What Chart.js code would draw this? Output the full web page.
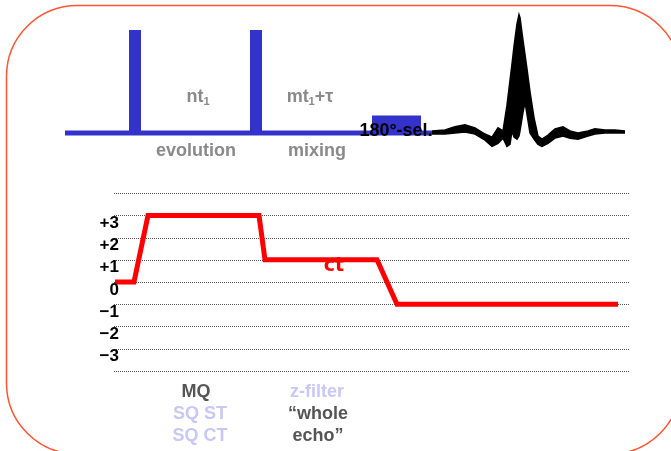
<!DOCTYPE html>
<html>
<head>
<meta charset="utf-8">
<script src="https://cdn.jsdelivr.net/npm/chart.js@4.4.0/dist/chart.umd.min.js"></script>
<style>
  html, body { margin: 0; padding: 0; background: #fff; }
  #wrap { position: relative; width: 671px; height: 451px; }
</style>
</head>
<body>
<div id="wrap"><canvas id="myChart"></canvas></div>
<script>
// pulse sequence: time in arbitrary units, amplitude in % of a hard pulse
const baseline = [65, 432]
const hardPulses = [[129, 141], [250, 262]]
const pulseAmp = 100
const selPulse = [372, 421]
const selAmp = [2, 17]

const echoTime = [432, 445, 455, 465, 475, 485, 492, 498, 503, 507, 510, 512, 514, 517, 519, 520, 523, 525, 527, 530, 534, 538, 542, 548, 555, 563, 570, 578, 588, 595, 605, 615, 625]
const echoTop = [2, 3, 6, 8, 5, -1, -4, 5, 2, 27, 51, 67, 84, 106, 115, 112, 90, 76, 62, 40, 15, -3, -6, -2, 4, 6, 2, 0, 2, 4, 3, 3, 2]
const echoBottom = [-1, -1, 0, 1, -1, -7, -13, -10, -5, -13, -11, 2, -4, -6, -3, 2, 20, 30, 18, 0, -6, -11, -13, -10, -5, -3, -5, -6, -3, -1, 0, 0, 0]

// coherence transfer pathway
const pathTime = [115, 134, 148, 259, 265, 377, 397, 618]
const pathOrder = [0, 0, 3, 3, 1, 1, -1, -1]
const orderLevels = [4, 3, 2, 1, 0, -1, -2, -3, -4]
const tickValues = [3, 2, 1, 0, -1, -2, -3]
const tickLabels = ['+3', '+2', '+1', '0', '\u22121', '\u22122', '\u22123']
const gridSpan = [114, 629]

const FONT = '"Liberation Sans", Arial, sans-serif'
const BLUE = '#3333cc'

function pts (xs, ys) {
  return xs.map((x, i) => ({ x: x, y: ys[i] }))
}

const datasets = []
// baseline
datasets.push({
  data: pts(baseline, [0, 0]),
  yAxisID: 'yp', borderColor: BLUE, borderWidth: 5, fill: false
})
// hard pulses
hardPulses.forEach(p => {
  datasets.push({
    data: pts(p, [pulseAmp, pulseAmp]),
    yAxisID: 'yp', borderWidth: 0, backgroundColor: BLUE, fill: { value: 0 }
  })
})
// selective 180 pulse
datasets.push({
  data: pts(selPulse, [selAmp[1], selAmp[1]]),
  yAxisID: 'yp', borderWidth: 0, backgroundColor: BLUE, fill: { value: selAmp[0] }
})
// echo (filled between top and bottom)
datasets.push({
  data: pts(echoTime, echoTop),
  yAxisID: 'yp', borderColor: '#000', borderWidth: 1.5, backgroundColor: '#000', fill: '+1'
})
datasets.push({
  data: pts(echoTime, echoBottom),
  yAxisID: 'yp', borderColor: '#000', borderWidth: 1.5, fill: false
})
// pathway
datasets.push({
  data: pts(pathTime, pathOrder),
  yAxisID: 'y', borderColor: '#ff0000', borderWidth: 5, borderJoinStyle: 'miter', fill: false
})

function drawRuns (ctx, runs, cx, cy, size, color) {
  let w = 0
  runs.forEach(r => {
    ctx.font = 'bold ' + (r.sub ? size * 0.62 : size) + 'px ' + FONT
    r.w = ctx.measureText(r.t).width
    w += r.w
  })
  let x = cx - w / 2
  ctx.fillStyle = color
  ctx.textBaseline = 'middle'
  ctx.textAlign = 'left'
  runs.forEach(r => {
    ctx.font = 'bold ' + (r.sub ? size * 0.62 : size) + 'px ' + FONT
    ctx.fillText(r.t, x, r.sub ? cy + size * 0.3 : cy)
    x += r.w
  })
}

const slidePlugin = {
  id: 'slide',
  beforeDatasetsDraw (chart) {
    const ctx = chart.ctx
    const xs = chart.scales.x
    const ys = chart.scales.y
    const x0 = xs.getPixelForValue(gridSpan[0])
    const x1 = xs.getPixelForValue(gridSpan[1])
    ctx.save()
    ctx.strokeStyle = '#555'
    ctx.lineWidth = 1
    ctx.setLineDash([1, 1])
    orderLevels.forEach(v => {
      const y = Math.round(ys.getPixelForValue(v)) + 0.5
      ctx.beginPath()
      ctx.moveTo(x0, y)
      ctx.lineTo(x1, y)
      ctx.stroke()
    })
    ctx.restore()
  },
  afterDatasetsDraw (chart) {
    const ctx = chart.ctx
    const ys = chart.scales.y
    ctx.save()
    // order tick labels
    ctx.font = 'bold 17px ' + FONT
    ctx.fillStyle = '#000'
    ctx.textAlign = 'right'
    ctx.textBaseline = 'middle'
    tickValues.forEach((v, i) => {
      ctx.fillText(tickLabels[i], 119, ys.getPixelForValue(v) + 8)
    })
    // pulse sequence labels
    const grey = '#8a8a8a'
    drawRuns(ctx, [{ t: 'nt' }, { t: '1', sub: true }], 198, 97, 18, grey)
    drawRuns(ctx, [{ t: 'mt' }, { t: '1', sub: true }, { t: '+\u03c4' }], 310, 97, 18, grey)
    drawRuns(ctx, [{ t: 'evolution' }], 196, 151, 18, grey)
    drawRuns(ctx, [{ t: 'mixing' }], 317, 151, 18, grey)
    drawRuns(ctx, [{ t: '180\u00b0-sel.' }], 396, 131, 18, '#000')
    // handwritten ct
    ctx.font = 'bold 19px "DejaVu Sans", sans-serif'
    ctx.fillStyle = '#ff0000'
    ctx.textAlign = 'center'
    ctx.fillText('ct', 334, 266)
    // bottom legend words
    const dark = '#555'
    const pale = '#c8c8f6'
    drawRuns(ctx, [{ t: 'MQ' }], 196, 392, 18, dark)
    drawRuns(ctx, [{ t: 'SQ ST' }], 200, 414, 18, pale)
    drawRuns(ctx, [{ t: 'SQ CT' }], 200, 436, 18, pale)
    drawRuns(ctx, [{ t: 'z-filter' }], 317, 392, 18, pale)
    drawRuns(ctx, [{ t: '\u201cwhole' }], 318, 414, 18, dark)
    drawRuns(ctx, [{ t: 'echo\u201d' }], 318, 436, 18, dark)
    ctx.restore()
  },
  afterDraw (chart) {
    // slide frame with rounded corners
    const ctx = chart.ctx
    const l = 6.5, t = 5.5, r = 681, b = 454, rad = 71
    ctx.save()
    ctx.strokeStyle = '#ff5533'
    ctx.lineWidth = 1.5
    ctx.beginPath()
    ctx.moveTo(l + rad, t)
    ctx.arcTo(r, t, r, b, rad)
    ctx.arcTo(r, b, l, b, rad)
    ctx.arcTo(l, b, l, t, rad)
    ctx.arcTo(l, t, r, t, rad)
    ctx.closePath()
    ctx.stroke()
    ctx.restore()
  }
}

window.onload = function () {
  const ctx = document.getElementById('myChart').getContext('2d')
  const myChart = new Chart(ctx, {
    type: 'line',
    data: { datasets: datasets },
    options: {
      responsive: true,
      maintainAspectRatio: false,
      animation: false,
      events: [],
      layout: { padding: 0, autoPadding: false },
      elements: { point: { radius: 0, hoverRadius: 0 }, line: { tension: 0 } },
      plugins: { legend: { display: false }, tooltip: { enabled: false } },
      scales: {
        x: { type: 'linear', display: false, min: 0, max: 671 },
        y: { type: 'linear', display: false, min: -7.61, max: 12.7 },
        yp: { type: 'linear', display: false, min: -308.7, max: 129.1 }
      }
    },
    plugins: [slidePlugin]
  })
}
</script>
</body>
</html>
